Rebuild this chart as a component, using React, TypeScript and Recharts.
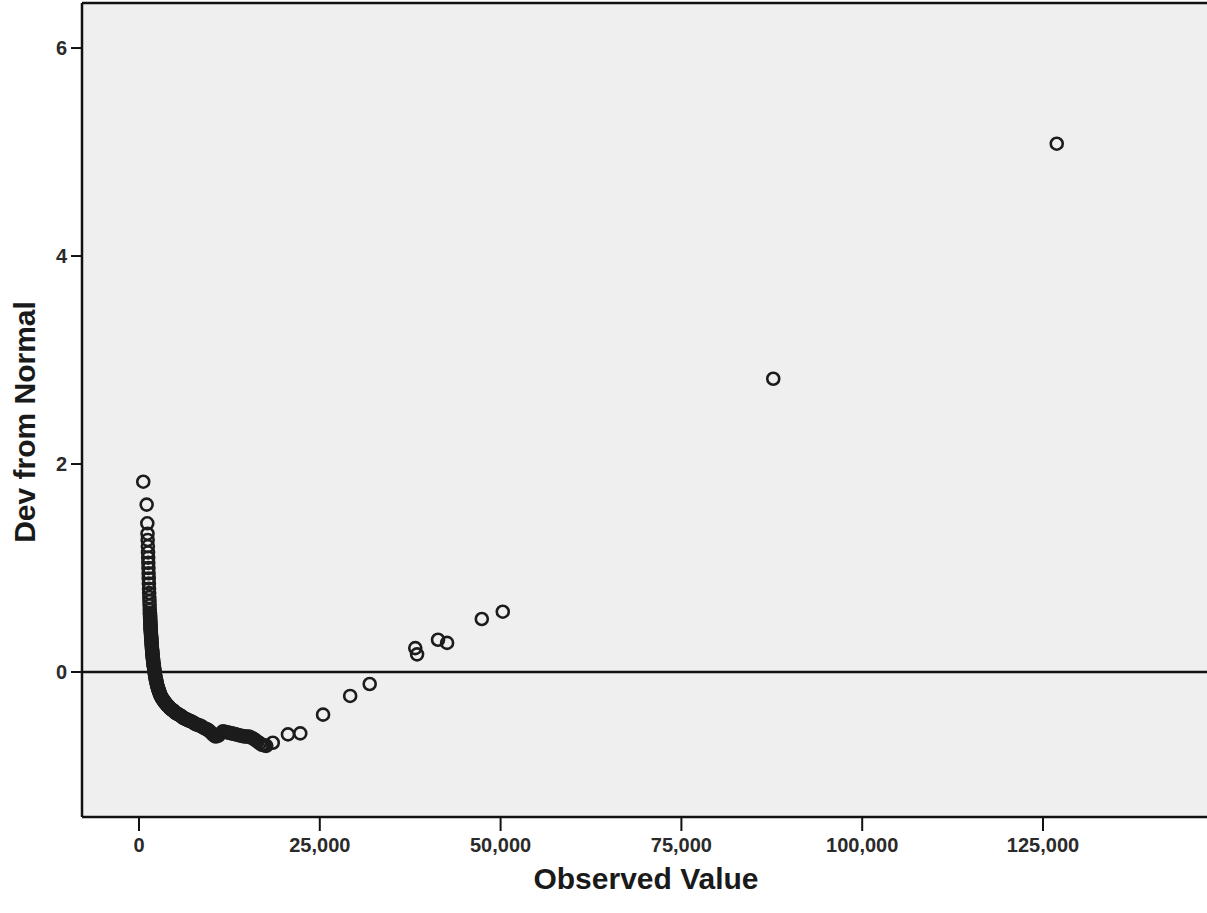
import React from 'react';
import { ScatterChart, Scatter, XAxis, YAxis, ReferenceLine, CartesianGrid, Label } from 'recharts';

const observedValues = [
  590, 1060, 1150, 1180, 1200, 1230, 1250, 1270, 1290, 1310, 1330, 1350, 1370, 1390, 1410, 1430, 1450, 1470, 1490,
  1510, 1520, 1530, 1540, 1550, 1560, 1570, 1580, 1590, 1600, 1610, 1620, 1630, 1640, 1650, 1665, 1680, 1690, 1700,
  1715, 1730, 1745, 1760, 1775, 1790, 1805, 1820, 1835, 1850, 1865, 1880, 1900, 1920, 1940, 1960, 1980, 2000, 2025,
  2050, 2075, 2100, 2125, 2150, 2175, 2200, 2230, 2260, 2290, 2320, 2360, 2400, 2440, 2480, 2520, 2560, 2600, 2650,
  2700, 2750, 2800, 2850, 2900, 2950, 3020, 3100, 3170, 3250, 3320, 3400, 3470, 3550, 3620, 3700, 3800, 3900, 4000,
  4100, 4200, 4300, 4400, 4500, 4620, 4750, 4870, 5000, 5120, 5250, 5370, 5500, 5650, 5800, 5950, 6100, 6250, 6400,
  6550, 6700, 6850, 7000, 7200, 7400, 7600, 7800, 8000, 8200, 8400, 8600, 8800, 9000, 9200, 9400, 9600, 9800, 10000,
  10200, 10400, 10600, 10800, 11000, 11300, 11600, 11900, 12200, 12500, 12800, 13100, 13400, 13700, 14000, 14300,
  14600, 14900, 15200, 15500, 15800, 16100, 16400, 16700, 17000, 17300, 17600, 18500, 20600, 22300, 25450, 29200,
  31900, 38200, 38450, 41350, 42600, 47400, 50300, 87700, 126900,
];
const devFromNormal = [
  1.83, 1.61, 1.43, 1.33, 1.27, 1.21, 1.15, 1.10, 1.05, 1.00, 0.95, 0.90, 0.85, 0.80, 0.76, 0.72, 0.68, 0.64, 0.60,
  0.57, 0.555, 0.54, 0.525, 0.51, 0.495, 0.48, 0.465, 0.45, 0.435, 0.42, 0.41, 0.40, 0.385, 0.37, 0.355, 0.34, 0.33,
  0.32, 0.305, 0.29, 0.275, 0.26, 0.245, 0.23, 0.22, 0.21, 0.195, 0.18, 0.17, 0.16, 0.145, 0.13, 0.12, 0.11, 0.095,
  0.08, 0.07, 0.06, 0.045, 0.03, 0.02, 0.01, -0.005, -0.02, -0.03, -0.04, -0.055, -0.07, -0.08, -0.09, -0.105, -0.12,
  -0.13, -0.14, -0.15, -0.16, -0.17, -0.18, -0.19, -0.20, -0.21, -0.22, -0.23, -0.24, -0.25, -0.26, -0.265, -0.27,
  -0.28, -0.29, -0.295, -0.30, -0.31, -0.32, -0.325, -0.33, -0.34, -0.35, -0.355, -0.36, -0.365, -0.37, -0.38,
  -0.39, -0.395, -0.40, -0.405, -0.41, -0.415, -0.42, -0.43, -0.44, -0.445, -0.45, -0.455, -0.46, -0.465, -0.47,
  -0.475, -0.48, -0.49, -0.50, -0.505, -0.51, -0.515, -0.52, -0.53, -0.54, -0.545, -0.55, -0.56, -0.57, -0.585,
  -0.60, -0.61, -0.62, -0.615, -0.61, -0.59, -0.57, -0.575, -0.58, -0.585, -0.59, -0.595, -0.60, -0.605, -0.61,
  -0.615, -0.62, -0.62, -0.62, -0.63, -0.64, -0.655, -0.67, -0.685, -0.70, -0.705, -0.71, -0.68, -0.60, -0.59, -0.41,
  -0.23, -0.115, 0.23, 0.17, 0.31, 0.28, 0.51, 0.58, 2.82, 5.08,
];
const xTicks = [0, 25000, 50000, 75000, 100000, 125000];
const yTicks = [0, 2, 4, 6];
const xDomain: [number, number] = [-7880, 148090];
const yDomain: [number, number] = [-1.394, 6.433];

const data = observedValues.map((x, i) => ({ x, y: devFromNormal[i] }));

const FONT = '"Liberation Sans", Arial, sans-serif';

const Ring = (props: any) => (
  <circle cx={props.cx} cy={props.cy} r={6} fill="none" stroke="#1c1c1c" strokeWidth={2.6} />
);

export default function App() {
  return (
    <div style={{ position: 'absolute', left: 0, top: 0, width: 1207, height: 913, overflow: 'hidden', background: '#fff' }}>
      <ScatterChart width={1212} height={913} margin={{ top: 3, right: 2, bottom: 0, left: 0 }}>
        <CartesianGrid horizontal={false} vertical={false} fill="#efefef" stroke="none" />
        <XAxis
          type="number"
          dataKey="x"
          domain={xDomain}
          ticks={xTicks}
          allowDataOverflow
          height={96}
          tickFormatter={(v: number) => v.toLocaleString('en-US')}
          axisLine={{ stroke: '#111', strokeWidth: 2.5 }}
          tickLine={{ stroke: '#111', strokeWidth: 2 }}
          tickSize={14}
          tickMargin={7}
          tick={{ fill: '#2a2a2a', fontSize: 20, fontWeight: 'bold', fontFamily: FONT }}
        >
          <Label
            value="Observed Value"
            position="insideBottom"
            offset={24}
            style={{ fill: '#1a1a1a', fontSize: 30, fontWeight: 'bold', fontFamily: FONT }}
          />
        </XAxis>
        <YAxis
          type="number"
          dataKey="y"
          domain={yDomain}
          ticks={yTicks}
          allowDataOverflow
          width={82}
          axisLine={{ stroke: '#111', strokeWidth: 2.5 }}
          tickLine={{ stroke: '#111', strokeWidth: 2 }}
          tickSize={11}
          tickMargin={4}
          tick={{ fill: '#2a2a2a', fontSize: 20, fontWeight: 'bold', fontFamily: FONT }}
        >
          <Label
            content={() => (
              <text
                x={24}
                y={422}
                transform="rotate(-90 24 422)"
                textAnchor="middle"
                dominantBaseline="central"
                style={{ fill: '#1a1a1a', fontSize: 30, fontWeight: 'bold', fontFamily: FONT }}
              >
                Dev from Normal
              </text>
            )}
          />
        </YAxis>
        <ReferenceLine y={yDomain[1]} stroke="#111" strokeWidth={2.5} />
        <ReferenceLine y={0} stroke="#111" strokeWidth={2.5} />
        <Scatter data={data} shape={Ring} isAnimationActive={false} />
      </ScatterChart>
    </div>
  );
}
